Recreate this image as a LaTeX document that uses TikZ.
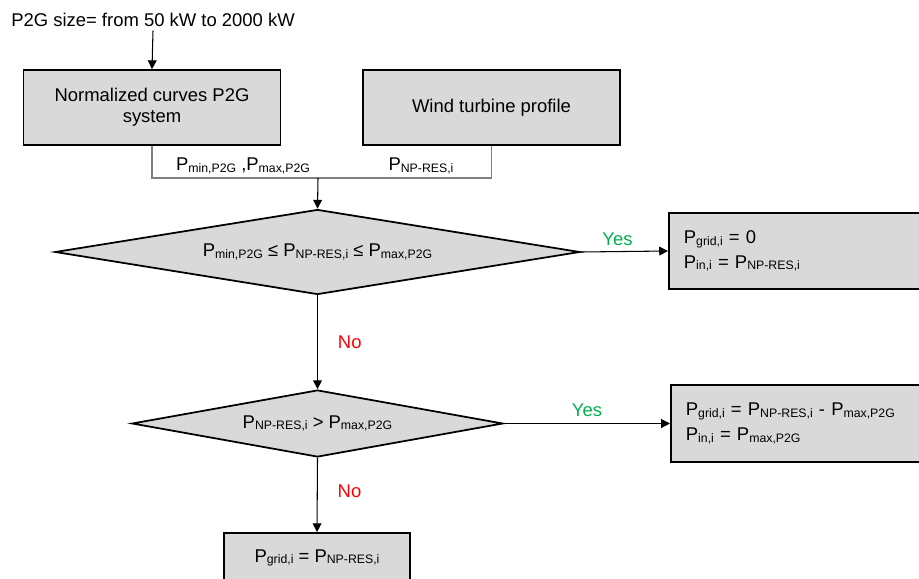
\documentclass[tikz,border=0pt]{standalone}
\usepackage{fontspec}
\setmainfont{Liberation Sans}
\usetikzlibrary{arrows.meta, shapes.geometric}
\definecolor{boxgray}{HTML}{D9D9D9}
\definecolor{yesgreen}{HTML}{00B050}
\tikzset{
    block/.style={rectangle, draw=black, fill=boxgray, line width=1pt, minimum width=5.14cm, minimum height=1.5cm, align=center, font=\fontsize{10.5}{12}\selectfont},
    result/.style={rectangle, draw=black, fill=boxgray, line width=1pt, anchor=west, minimum width=5.3cm, text width=4.7cm, inner xsep=0.3cm, align=left, font=\fontsize{10.5}{14}\selectfont},
    decision/.style={diamond, draw=black, fill=boxgray, line width=1pt, inner sep=0pt, font=\fontsize{10.5}{12}\selectfont},
    plain/.style={font=\fontsize{10.5}{12}\selectfont, inner sep=2pt},
    line/.style={-{Triangle[length=5pt, width=5pt]}, line width=0.6pt, black},
    feed/.style={line width=0.7pt, gray},
    yes/.style={text=yesgreen, font=\fontsize{10.5}{12}\selectfont},
    no/.style={text=red, font=\fontsize{10.5}{12}\selectfont}
}
% power with a subscript
\newcommand{\Pw}[1]{P\raisebox{-1pt}{\fontsize{7}{8}\selectfont #1}}

\begin{document}
\begin{tikzpicture}[x=0.02cm, y=-0.02cm]
	\clip (0,0) rectangle (919,578);

	\node (size) [plain] at (153,20) {P2G size= from 50 kW to 2000 kW};
	\node (curves) [block] at (152,107.5) {Normalized curves P2G\\system};
	\node (wind) [block] at (491.5,107.5) {Wind turbine profile};

	% both inputs meet here
	\coordinate (join) at (318,178);
	\node (limits) [plain] at (243,166) {\Pw{min,P2G} ,\Pw{max,P2G}};
	\node (npres) [plain] at (421,166) {\Pw{NP-RES,i}};

	\node (check1) [decision, aspect=6.18, minimum width=10.5cm, minimum height=1.7cm] at (317.5,252)
		{\Pw{min,P2G} ≤ \Pw{NP-RES,i} ≤ \Pw{max,P2G}};
	\node (check2) [decision, aspect=5.54, minimum width=7.42cm, minimum height=1.34cm] at (317.5,423.5)
		{\Pw{NP-RES,i} > \Pw{max,P2G}};

	\node (out1) [result, minimum height=1.52cm] at (668,251)
		{\Pw{grid,i} = 0\\\Pw{in,i} = \Pw{NP-RES,i}};
	\node (out2) [result, minimum height=1.54cm] at (670,423.5)
		{\Pw{grid,i} = \Pw{NP-RES,i} - \Pw{max,P2G}\\\Pw{in,i} = \Pw{max,P2G}};
	\node (out3) [block, minimum width=3.72cm, minimum height=1.0cm] at (317,558)
		{\Pw{grid,i} = \Pw{NP-RES,i}};

	\draw[line] (size.south) -- (curves.north);
	\draw[feed] (curves.south) |- (join) -| (wind.south);
	\draw[line] (join) -- (check1.north);
	\draw[line] (check1.east) -- node (yes1) [yes, above, pos=0.42] {Yes} (out1.west);
	\draw[line] (check1.south) -- node (no1) [no, right=8pt] {No} (check2.north);
	\draw[line] (check2.east) -- node (yes2) [yes, above] {Yes} (out2.west);
	\draw[line] (check2.south) -- node (no2) [no, right=8pt, pos=0.45] {No} (out3.north);
\end{tikzpicture}
\end{document}
